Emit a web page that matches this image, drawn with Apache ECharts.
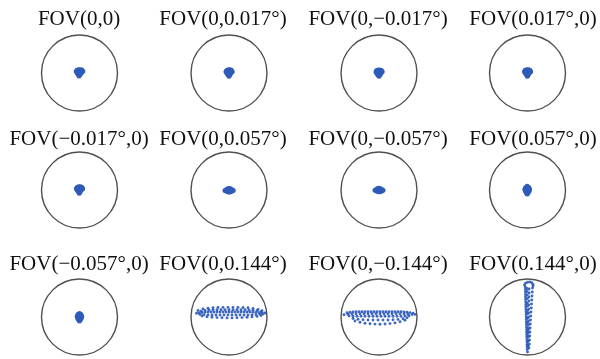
<!DOCTYPE html>
<html><head><meta charset="utf-8">
<script src="https://cdn.jsdelivr.net/npm/echarts@6/dist/echarts.min.js"></script>
<style>html,body{margin:0;padding:0;background:#fff}#c{width:600px;height:359px}</style>
</head><body><div id="c"></div>
<script>
// Field-of-view labels (row-major, 3 rows x 4 columns)
const fovLabels = ['FOV(0,0)', 'FOV(0,0.017°)', 'FOV(0,\u22120.017°)', 'FOV(0.017°,0)',
  'FOV(\u22120.017°,0)', 'FOV(0,0.057°)', 'FOV(0,\u22120.057°)', 'FOV(0.057°,0)',
  'FOV(\u22120.057°,0)', 'FOV(0,0.144°)', 'FOV(0,\u22120.144°)', 'FOV(0.144°,0)'];

// Airy disk radius (same units as spot coordinates)
const airyRadius = 38;

// Spot diagram points [x, y] relative to chief ray, per field
const spot_0_0 = [[-2.5,2.8],[-1,3.3],[0.8,3.3],[2.3,3],[3.3,1.8],[-3.2,1.5],[-1.3,1.6],[0.7,1.7],[2.2,1.4],[-2.3,0],[-0.3,0.1],[1.8,0],[-1.2,-1.6],[0.6,-1.6],[-0.4,-3]];
const spot_0_p017 = [[-2.3,2.6],[-0.8,3.2],[0.9,3.2],[2.4,2.7],[3.2,1.3],[-3,1.2],[-1.2,1.5],[0.8,1.6],[2.3,1.2],[-2.1,-0.3],[-0.2,0],[1.8,-0.3],[-1,-1.8],[0.8,-1.8],[0,-3.2]];
const spot_0_m017 = [[-2.3,2.5],[-0.8,3.1],[0.9,3.1],[2.4,2.6],[3.2,1.2],[-3,1.1],[-1.2,1.4],[0.8,1.5],[2.3,1.1],[-2.1,-0.4],[-0.2,-0.1],[1.8,-0.4],[-1,-1.9],[0.8,-1.9],[0,-3.3]];
const spot_p017_0 = [[-2.3,2.7],[-0.8,3.2],[0.9,3.2],[2.4,2.7],[3.1,1.3],[-3,1.2],[-1.2,1.5],[0.8,1.6],[2.3,1.2],[-2.1,-0.3],[-0.2,0],[1.7,-0.3],[-1,-1.8],[0.7,-1.8],[-0.1,-3.2]];
const spot_m017_0 = [[-2.4,2.6],[-0.9,3.2],[0.8,3.2],[2.3,2.7],[3.1,1.3],[-3.1,1.2],[-1.3,1.5],[0.7,1.6],[2.2,1.2],[-2.2,-0.3],[-0.3,0],[1.7,-0.3],[-1.1,-1.8],[0.6,-1.8],[-0.2,-3.2]];
const spot_0_p057 = [[-4,-0.5],[-2.5,0.6],[-2.5,-1.2],[-0.8,1.6],[-0.8,-0.3],[-0.8,-2],[1,1.4],[1,-0.4],[1,-1.9],[2.8,0.4],[2.8,-1.2],[4.2,-0.4]];
const spot_0_m057 = [[-4,-0.3],[-2.5,0.8],[-2.5,-1],[-0.8,1.7],[-0.8,-0.1],[-0.8,-1.8],[1,1.5],[1,-0.2],[1,-1.7],[2.8,0.6],[2.8,-1],[4,-0.2]];
const spot_p057_0 = [[-0.3,3.8],[-1.8,2.6],[1.2,2.6],[-2.6,0.8],[-0.3,1],[2,0.9],[-2.2,-0.8],[-0.3,-0.7],[1.8,-0.8],[-1.3,-2.4],[0.8,-2.4],[-0.3,-4]];
const spot_m057_0 = [[0,3.6],[-1.5,2.4],[1.4,2.4],[-2.3,0.7],[0,0.8],[2.2,0.7],[-1.9,-0.9],[0,-0.8],[1.9,-0.9],[-1.1,-2.5],[1,-2.5],[0,-4]];
const spot_0_p144 = [
  [-31,6.5],[-26,8],[-21,8.8],[-16,9.3],[-11,9.5],[-6,9.6],[-1,9.6],[4,9.6],[9,9.6],[14,9.5],[19,9.2],[24,8.6],[29,7.6],[33,6.2],
  [-32.5,3.8],[36,4],
  [-28,5.8],[-24,6.6],[-20,7],[-16,7.2],[-12,7.3],[-8,7.3],[-4,7.3],[0,7.3],[4,7.3],[8,7.3],[12,7.3],[16,7.2],[20,7],[24,6.7],[28,6.2],[32,5.4],
  [-30,4],[-27,4.5],[-24,4.8],[-21,5],[-18,5],[-15,5],[-12,5],[-9,5],[-6,5],[-3,5],[0,5],[3,5],[6,5],[9,5],[12,5],[15,5],[18,5],[21,5],[24,4.8],[27,4.6],[30,4.3],[33,4],
  [-29,2.6],[-25,2.3],[-21,2.1],[-17,2],[-13,2],[-9,2],[-5,2],[-1,2],[3,2],[7,2],[11,2],[15,2],[19,2],[23,2.1],[27,2.3],[31,2.6],[34,3],
  [-27,1],[-22,0.2],[-17,-0.3],[-12,-0.6],[-7,-0.8],[-2,-0.9],[3,-0.9],[8,-0.8],[13,-0.6],[18,-0.3],[23,0.1],[28,0.6],[32,1.4]
];
const spot_0_m144 = [
  [-32,4.2],[-29,4.8],[-26,5],[-23,5.2],[-20,5.3],[-17,5.3],[-14,5.3],[-11,5.3],[-8,5.3],[-5,5.3],[-2,5.3],[1,5.3],[4,5.3],[7,5.3],[10,5.3],[13,5.3],[16,5.3],[19,5.3],[22,5.2],[25,5],[28,4.8],[31,4.4],[34,3.8],
  [-35,2.3],[36,2.6],
  [-31,2.8],[-27,3],[-23,3.2],[-19,3.3],[-15,3.3],[-11,3.3],[-7,3.3],[-3,3.3],[1,3.3],[5,3.3],[9,3.3],[13,3.3],[17,3.3],[21,3.2],[25,3],[29,2.8],[33,2.4],
  [-30,1],[-26,0.8],[-22,0.8],[-18,0.8],[-14,0.8],[-10,0.8],[-6,0.8],[-2,0.8],[2,0.8],[6,0.8],[10,0.8],[14,0.8],[18,0.8],[22,0.8],[26,0.9],[30,1.1],
  [-26,-1.5],[-21,-2.3],[-16,-2.7],[-11,-3],[-6,-3],[-1,-3],[4,-3],[9,-3],[14,-2.8],[19,-2.4],[24,-1.8],[28,-0.8],
  [-24,-4],[-19,-5.3],[-14,-6.2],[-9,-6.8],[-4,-7.1],[1,-7.2],[6,-7],[11,-6.6],[16,-5.9],[21,-4.8],[26,-3.2]
];
const spot_p144_0 = [
  [-2.3,30],[-2.2,27.5],[-2.1,25],[-2,22.5],[-2,20],[-1.9,17.5],[-1.8,15],[-1.7,12.5],[-1.7,10],[-1.6,7.5],[-1.5,5],[-1.4,2.5],[-1.3,0],
  [-1.2,-2.5],[-1.2,-5],[-1.1,-7.5],[-1,-10],[-0.9,-12.5],[-0.9,-15],[-0.8,-17.5],[-0.7,-20],[-0.6,-22.5],[-0.5,-25],[-0.5,-27.5],[-0.4,-30],[-0.3,-32.5],
  [-0.5,28.5],[-0.4,25.5],[-0.3,22],[-0.3,18.5],[-0.2,14],[-0.1,11],[0,6.5],[0,3.5],[0.1,-1],[0.1,-6],[0.2,-11],[0.3,-14],[0.3,-19],[0.4,-24],[0.5,-29],
  [1.6,28],[1.6,24],[1.5,20],[1.4,16],[1.3,12],[1.2,8],[1.2,4],[1.1,0],[1,-4],[1,-8],[0.9,-12],[0.8,-16],[0.8,-20],[0.7,-24],[0.7,-28],
  [5,29],[4.8,25],[4.5,21],[4.3,17],[4,13],[3.8,9],[3.5,5],[3.3,1],[3,-3],[2.8,-7],[2.6,-11],[2.4,-15],[2.2,-19],[2,-23],[1.8,-27],[1.4,-31],
  [-3,32],[-2,33.8],[0,34.8],[2.2,35],[4.2,34.2],[5.5,32.5],[5.5,31],
  [0,-35]
];

const spots = [spot_0_0, spot_0_p017, spot_0_m017, spot_p017_0,
  spot_m017_0, spot_0_p057, spot_0_m057, spot_p057_0,
  spot_m057_0, spot_0_p144, spot_0_m144, spot_p144_0];
const bigSpot = [false,false,false,false,false,false,false,false,false,true,true,true];

// Layout
const colX = [79.5, 229, 379, 527.5];
const rowY = [73, 190, 317];
const titleX = [79, 223, 378, 533];
const titleY = [19, 139, 264];
const R = 38;
const dotColor = '#2f5bb8';

const grid = [], xAxis = [], yAxis = [], series = [], graphic = [];
for (let i = 0; i < 12; i++) {
  const r = Math.floor(i / 4), c = i % 4;
  const cx = colX[c], cy = rowY[r];
  grid.push({left: cx - R, top: cy - R, width: 2 * R, height: 2 * R});
  xAxis.push({type: 'value', gridIndex: i, min: -airyRadius, max: airyRadius, show: false});
  yAxis.push({type: 'value', gridIndex: i, min: -airyRadius, max: airyRadius, show: false});
  series.push({
    type: 'scatter', xAxisIndex: i, yAxisIndex: i, data: spots[i],
    symbol: 'circle', symbolSize: bigSpot[i] ? 2.9 : 5,
    itemStyle: {color: dotColor, opacity: bigSpot[i] ? 0.92 : 1},
    silent: true, animation: false
  });
  graphic.push({
    type: 'circle', shape: {cx: cx, cy: cy, r: R},
    style: {fill: 'none', stroke: '#505050', lineWidth: 1.4}, silent: true, z: 1
  });
  graphic.push({
    type: 'text', x: titleX[c], y: titleY[r],
    style: {text: fovLabels[i], font: '21px "Liberation Serif"', fill: '#111',
      textAlign: 'center', textVerticalAlign: 'middle', verticalAlign: 'middle'},
    silent: true
  });
}

const chart = echarts.init(document.getElementById('c'), null, {renderer: 'canvas'});
chart.setOption({
  backgroundColor: '#fff',
  animation: false,
  grid, xAxis, yAxis, series, graphic
});
</script>
</body></html>
